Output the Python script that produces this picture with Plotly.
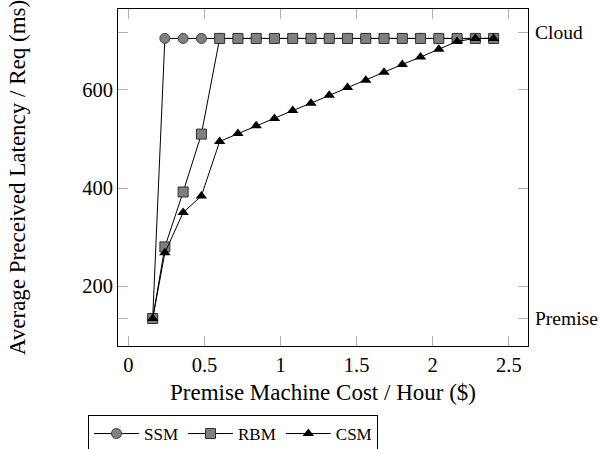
import plotly.graph_objects as go

# Data
ssm_x = [0.16, 0.24, 0.36, 0.48, 0.60, 0.72, 0.84, 0.96, 1.08, 1.20, 1.32, 1.44, 1.56, 1.68, 1.80, 1.92, 2.04, 2.16, 2.28, 2.40]
ssm_y = [134, 705, 705, 705, 705, 705, 705, 705, 705, 705, 705, 705, 705, 705, 705, 705, 705, 705, 705, 705]

rbm_x = [0.16, 0.24, 0.36, 0.48, 0.60, 0.72, 0.84, 0.96, 1.08, 1.20, 1.32, 1.44, 1.56, 1.68, 1.80, 1.92, 2.04, 2.16, 2.28, 2.40]
rbm_y = [134, 280, 392, 510, 705, 705, 705, 705, 705, 705, 705, 705, 705, 705, 705, 705, 705, 705, 705, 705]

csm_x = [0.16, 0.24, 0.36, 0.48, 0.60, 0.72, 0.84, 0.96, 1.08, 1.20, 1.32, 1.44, 1.56, 1.68, 1.80, 1.92, 2.04, 2.16, 2.28, 2.40]
csm_y = [134, 268, 350, 384, 495, 511, 527, 542, 558, 573, 589, 605, 620, 636, 652, 667, 683, 699, 705, 705]

x_ticks = [0, 0.5, 1, 1.5, 2, 2.5]
x_tick_labels = ["0", "0.5", "1", "1.5", "2", "2.5"]
y_ticks = [135, 200, 400, 600, 718]
y_tick_labels = ["", "200", "400", "600", ""]
extra_ticks = [135, 718]
extra_labels = ["Premise", "Cloud"]

FONT = "Liberation Serif, Times New Roman, serif"
TICKC = "#b0b0b0"

fig = go.Figure()
fig.add_trace(go.Scatter(
    x=ssm_x, y=ssm_y, name="SSM", mode="lines+markers",
    line=dict(color="black", width=1),
    marker=dict(symbol="circle", size=10, color="#808080", line=dict(color="#404040", width=1)),
))
fig.add_trace(go.Scatter(
    x=rbm_x, y=rbm_y, name="RBM", mode="lines+markers",
    line=dict(color="black", width=1),
    marker=dict(symbol="square", size=10, color="#808080", line=dict(color="#303030", width=1)),
))
fig.add_trace(go.Scatter(
    x=csm_x, y=csm_y, name="CSM", mode="lines+markers",
    line=dict(color="black", width=1),
    marker=dict(symbol="triangle-up", size=10, color="black", line=dict(color="black", width=0)),
))

for val, lab in zip(extra_ticks, extra_labels):
    fig.add_annotation(
        x=1, xref="paper", y=val, yref="y", text=lab, showarrow=False,
        xanchor="left", yanchor="middle", xshift=5,
        font=dict(family=FONT, size=19.5, color="black"),
    )

fig.update_layout(
    width=603, height=449,
    margin=dict(l=118, r=75, t=9, b=103, autoexpand=False),
    paper_bgcolor="white", plot_bgcolor="white",
    font=dict(family=FONT, size=19.5, color="black"),
    xaxis=dict(
        range=[-0.068, 2.626], tickvals=x_ticks, ticktext=x_tick_labels,
        tickfont=dict(size=20.5),
        ticks="inside", ticklen=10, tickcolor=TICKC, tickwidth=1,
        showline=True, linecolor="black", linewidth=1, mirror="ticks",
        showgrid=False, zeroline=False,
        title=dict(text="Premise Machine Cost / Hour ($)", standoff=9),
    ),
    yaxis=dict(
        range=[78, 765], tickvals=y_ticks, ticktext=y_tick_labels,
        tickfont=dict(size=20.5),
        ticks="inside", ticklen=10, tickcolor=TICKC, tickwidth=1,
        showline=True, linecolor="black", linewidth=1, mirror="ticks",
        showgrid=False, zeroline=False,
        title=dict(text="Average Preceived Latency / Req (ms)", standoff=50),
    ),
    legend=dict(
        orientation="h", x=-0.0732, y=-0.2047, xanchor="left", yanchor="top",
        bordercolor="black", borderwidth=1, bgcolor="white",
        font=dict(size=17), itemwidth=45,
    ),
)

fig.write_html("out.html", config={"displayModeBar": False},
               post_script="document.body.style.margin='0';")
